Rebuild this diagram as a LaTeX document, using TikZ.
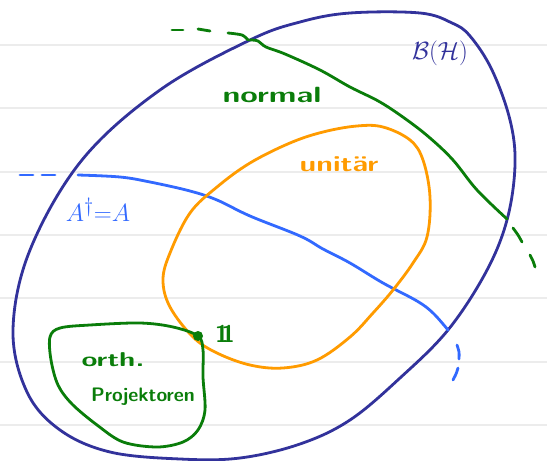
\documentclass[tikz,border=0pt]{standalone}
\usepackage{amsmath}
\definecolor{navy}{RGB}{50,50,155}
\definecolor{dgreen}{RGB}{10,125,10}
\definecolor{orng}{RGB}{255,155,0}
\definecolor{lblue}{RGB}{50,105,255}
\definecolor{rule}{RGB}{236,236,236}
\tikzset{
  pen/.style={line width=2.8pt, line cap=round, line join=round},
  lbl/.style={inner sep=0pt, font=\sffamily},
}
\newcommand{\identone}{\textsf{1\kern-0.28em1}}
\begin{document}
\begin{tikzpicture}[x=1pt,y=-1pt]
\useasboundingbox (0,0) rectangle (547,461);
\fill[white] (0,0) rectangle (547,461);
% ruled paper lines
\foreach \yy in {45,108,172,235,298,362,425}
  \draw[rule, line width=2pt] (0,\yy) -- (547,\yy);

% B(H) big set
\draw[pen, navy] plot[smooth cycle, tension=0.6] coordinates {
  (250,40) (300,22) (350,13) (420,13) (452,23) (470,36) (492,70) (510,120)
  (515,165) (507,220) (486,272) (448,330) (400,378) (350,420) (300,444)
  (240,458) (180,459) (110,452) (60,430) (27,392) (13,330) (30,250)
  (82,160) (160,90)};

% normal (green) boundary
\draw[pen, dgreen] (172,30) -- (183,30);
\draw[pen, dgreen] (198,29) -- (210,31);
\draw[pen, dgreen] plot[smooth] coordinates {(228,33) (242,35) (248,40)};
\draw[pen, dgreen] plot[smooth, tension=0.6] coordinates {
  (250,40) (258,41) (266,47) (285,54) (320,70) (350,87) (380,102) (407,120)
  (430,138) (453,160) (477,190) (507,219)};
\draw[pen, dgreen] plot[smooth] coordinates {(513,228) (518,235) (522,242)};
\draw[pen, dgreen] plot[smooth] coordinates {(530,255) (533,261) (535,267)};

% self-adjoint (blue) boundary
\draw[pen, lblue] (20,175) -- (33,175);
\draw[pen, lblue] (42,175) -- (55,175);
\draw[pen, lblue] plot[smooth, tension=0.6] coordinates {
  (78,175) (120,177) (150,182) (190,191) (217,200) (250,216) (300,236)
  (323,249) (350,263) (383,283) (417,301) (433,313) (448,330)};
\draw[pen, lblue] plot[smooth] coordinates {(457,345) (459,352) (459,359)};
\draw[pen, lblue] plot[smooth] coordinates {(458,368) (456,374) (453,380)};

% unitary (orange)
\draw[pen, orng] plot[smooth cycle, tension=0.6] coordinates {
  (357,126) (383,127) (410,140) (423,160) (430,197) (427,237) (413,263)
  (393,290) (373,313) (350,337) (317,360) (283,368) (250,365) (217,353)
  (193,337) (170,307) (163,280) (170,253) (190,213) (217,187) (250,163)
  (290,143) (323,132)};

% orthogonal projections (green)
\draw[pen, dgreen] plot[smooth cycle, tension=0.55] coordinates {
  (198,336) (203,350) (203,377) (205,410) (198,430) (183,442) (157,447)
  (123,442) (97,425) (72,404) (58,385) (51,360) (50,337) (60,328)
  (90,325) (140,323) (173,327)};
\fill[dgreen] (198,336) circle (5);

% labels
\node[lbl, navy, font=\fontsize{30}{32}\selectfont] (bh) at (440,53) {$\mathcal{B}(\mathcal{H})$};
\node[lbl, dgreen, font=\sffamily\bfseries\fontsize{22}{24}\selectfont] (nor) at (272,95) {\scalebox{1.45}[1]{normal}};
\node[lbl, orng, font=\sffamily\bfseries\fontsize{22}{24}\selectfont] (uni) at (339,164) {\scalebox{1.35}[1]{unitär}};
\node[lbl, lblue, font=\fontsize{29}{31}\selectfont] (sa) at (98,210) {$A^{\dagger}{=}A$};
\node[lbl, dgreen, font=\bfseries\fontsize{24}{26}\selectfont] (one) at (225,334) {\identone};
\node[lbl, dgreen, font=\sffamily\bfseries\fontsize{20}{22}\selectfont] (orth) at (113,360) {\scalebox{1.45}[1]{orth.}};
\node[lbl, dgreen, font=\sffamily\bfseries\fontsize{19.5}{22}\selectfont] (proj) at (143,397) {Projektoren};
\end{tikzpicture}
\end{document}
